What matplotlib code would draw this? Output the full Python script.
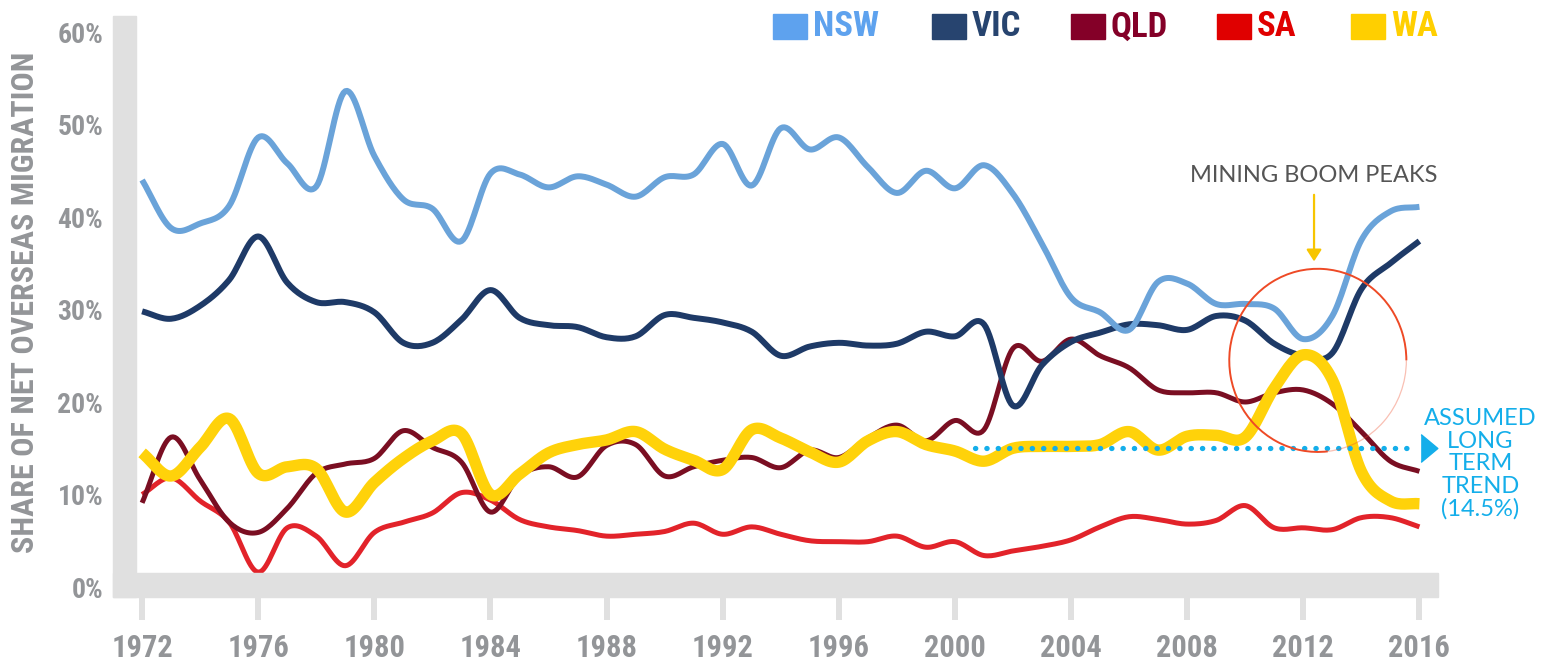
import numpy as np
import matplotlib
matplotlib.use("Agg")
import matplotlib.pyplot as plt
from matplotlib import font_manager as fm
from matplotlib.patches import Rectangle, Arc

# annual share of net overseas migration (%)
years = list(range(1972, 2017))
nsw = [44.0, 38.8, 39.3, 41.2, 48.6, 45.8, 43.3, 53.6, 46.6, 41.9,
       40.9, 37.4, 44.7, 44.6, 43.2, 44.4, 43.5, 42.2, 44.3, 44.6,
       47.9, 43.4, 49.6, 47.3, 48.6, 45.4, 42.6, 45.0, 43.1, 45.6,
       42.5, 37.1, 31.3, 29.7, 27.8, 33.0, 32.8, 30.6, 30.6, 30.1,
       26.8, 29.3, 37.5, 40.6, 41.1]
vic = [29.8, 29.0, 30.4, 33.2, 37.9, 32.9, 30.8, 30.8, 29.7, 26.4,
       26.4, 28.9, 32.1, 29.1, 28.3, 28.1, 27.0, 27.1, 29.4, 29.1,
       28.6, 27.6, 25.0, 26.0, 26.4, 26.1, 26.3, 27.6, 27.1, 28.4,
       19.6, 24.0, 26.5, 27.5, 28.4, 28.3, 27.8, 29.3, 28.8, 26.3,
       25.0, 25.3, 32.2, 35.0, 37.4]
qld = [9.1, 16.2, 11.6, 7.0, 5.9, 8.5, 12.3, 13.3, 13.9, 16.9,
       15.1, 13.5, 8.1, 12.0, 13.0, 11.9, 15.3, 15.4, 12.0, 13.0,
       13.7, 14.0, 12.9, 14.8, 14.0, 16.1, 17.5, 15.8, 18.0, 17.0,
       25.8, 24.4, 26.8, 25.0, 23.7, 21.3, 21.0, 21.0, 20.0, 21.0,
       21.3, 19.8, 16.8, 13.6, 12.5]
sa = [10.0, 11.8, 9.3, 7.0, 1.6, 6.4, 5.5, 2.3, 5.9, 7.0,
      8.0, 10.2, 9.4, 7.3, 6.5, 6.1, 5.5, 5.7, 6.0, 6.9,
      5.7, 6.5, 5.7, 5.0, 4.9, 4.9, 5.5, 4.3, 4.9, 3.4,
      3.9, 4.4, 5.1, 6.5, 7.6, 7.3, 6.8, 7.2, 8.8, 6.4,
      6.4, 6.2, 7.5, 7.5, 6.5]
wa = [14.5, 12.0, 15.1, 18.2, 12.3, 13.0, 12.8, 8.1, 11.3, 13.9,
      15.8, 16.6, 10.0, 12.2, 14.5, 15.4, 15.9, 16.8, 14.9, 13.7,
      12.7, 17.0, 16.1, 14.6, 13.5, 15.8, 16.8, 15.4, 14.7, 13.6,
      15.0, 15.2, 15.2, 15.4, 16.8, 14.8, 16.3, 16.4, 16.2, 21.5,
      25.1, 22.4, 12.5, 9.3, 9.0]

trend_value = 15.0
trend_start = 2000.7
trend_end = 2015.9

names = ["NSW", "VIC", "QLD", "SA", "WA"]
line_colors = ["#6AA3D9", "#1E3A67", "#7A0E22", "#E2232A", "#FFD20A"]
key_colors = ["#5EA2EE", "#27446F", "#840028", "#E00000", "#FFCF00"]
widths = [4.3, 4.3, 3.6, 3.6, 8.2]

W, H = 1542, 660
GREY_TXT = "#939598"
GREY_BAR = "#E0E0E0"
BLUE = "#14AEEA"

# pick a condensed bold face if one is installed
have = {f.name for f in fm.fontManager.ttflist}
cond = next((n for n in ["Roboto Condensed", "Liberation Sans Narrow", "Open Sans Condensed"]
             if n in have), None)
cond_kw = {"family": cond} if cond else {"family": "DejaVu Sans", "stretch": "condensed"}
hand = "Lato" if "Lato" in have else "DejaVu Sans"


def smooth(x, y, n=16):
    # Catmull-Rom curve through the yearly points (like Excel's smoothed lines)
    x = np.asarray(x, float)
    y = np.asarray(y, float)
    px = np.concatenate([[2 * x[0] - x[1]], x, [2 * x[-1] - x[-2]]])
    py = np.concatenate([[2 * y[0] - y[1]], y, [2 * y[-1] - y[-2]]])
    t = np.linspace(0, 1, n, endpoint=False)
    xs, ys = [], []
    for i in range(1, len(px) - 2):
        for arr, out in ((px, xs), (py, ys)):
            p0, p1, p2, p3 = arr[i - 1:i + 3]
            out.append(0.5 * (2 * p1 + (p2 - p0) * t
                              + (2 * p0 - 5 * p1 + 4 * p2 - p3) * t ** 2
                              + (3 * p1 - p0 - 3 * p2 + p3) * t ** 3))
    xs.append([x[-1]])
    ys.append([y[-1]])
    return np.concatenate(xs), np.concatenate(ys)


fig = plt.figure(figsize=(W / 100, H / 100), dpi=100)
ax = fig.add_axes([136 / W, 1 - 587 / H, (1438 - 136) / W, (587 - 16) / H])
ax.set_xlim(1971.79, 2016.64)
ax.set_ylim(0, 61.73)
ax.patch.set_alpha(0)
for s in ax.spines.values():
    s.set_visible(False)

series = [nsw, vic, qld, sa, wa]
order = [3, 2, 1, 0, 4]
for k in order:
    xs, ys = smooth(years, series[k])
    ax.plot(xs, ys, color=line_colors[k], lw=widths[k], solid_capstyle="butt",
            solid_joinstyle="round", zorder=2 + order.index(k) * 0.1)

# assumed long term trend
ax.plot([trend_start, trend_end], [trend_value, trend_value], color=BLUE, lw=3.8,
        linestyle=(0, (0.05, 2.1)), dash_capstyle="round", zorder=3)
ax.plot([2016.33], [trend_value], marker=[(-0.6, -1), (0.6, 0), (-0.6, 1)],
        markersize=20, color=BLUE, clip_on=False, zorder=3)
ax.text(2018.1, 13.3, "ASSUMED\nLONG\nTERM\nTREND\n(14.5%)", color=BLUE,
        family=hand, fontsize=17, ha="center", va="center", linespacing=1.08,
        clip_on=False)

# mining boom circle
circ_kw = dict(xy=(2012.5, 24.5), width=6.1, height=19.8, color="#EE4A26")
ax.add_patch(Arc(theta1=0, theta2=272, lw=1.4, zorder=4, **circ_kw))
ax.add_patch(Arc(theta1=272, theta2=360, lw=0.9, alpha=0.35, zorder=4, **circ_kw))
ax.annotate("", xy=(2012.37, 34.9), xytext=(2012.37, 42.7),
            arrowprops=dict(arrowstyle="-|>,head_length=0.7,head_width=0.45",
                            color="#F7C500", lw=1.6), zorder=4)
ax.text(2012.37, 44.5, "MINING BOOM PEAKS", color="#555555", family=hand,
        fontsize=17, ha="center", va="center")

# axes ticks and labels
ax.set_xticks(range(1972, 2017, 4))
ax.set_yticks(range(0, 61, 10))
ax.set_yticklabels([f"{v}%" for v in range(0, 61, 10)])
ax.tick_params(axis="x", length=23.8, width=4.3, color=GREY_BAR, pad=9,
               labelsize=22, labelcolor=GREY_TXT)
ax.tick_params(axis="y", length=0, pad=23.5, labelsize=20, labelcolor=GREY_TXT)
for lab in ax.get_xticklabels() + ax.get_yticklabels():
    lab.set_fontweight("bold")
    lab.set(**cond_kw)

# thick grey axis bars
fig.add_artist(Rectangle((113 / W, 1 - 597 / H), 23 / W, (597 - 16) / H,
                         transform=fig.transFigure, color=GREY_BAR, zorder=5))
fig.add_artist(Rectangle((113 / W, 1 - 597 / H), (1438 - 113) / W, 24 / H,
                         transform=fig.transFigure, color=GREY_BAR, zorder=5))

fig.text(25 / W, 1 - 302 / H, "SHARE OF NET OVERSEAS MIGRATION", rotation=90,
         ha="center", va="center", fontsize=23, fontweight="bold", color=GREY_TXT,
         **cond_kw)

# legend
key_x = [773, 932, 1071, 1217, 1351]
for name, col, kx in zip(names, key_colors, key_x):
    fig.add_artist(Rectangle((kx / W, 1 - 39 / H), 34 / W, 25 / H,
                             transform=fig.transFigure, color=col))
    fig.text((kx + 40) / W, 1 - 27 / H, name, ha="left", va="center",
             fontsize=25, fontweight="bold", color=col, **cond_kw)

fig.savefig("out.png", dpi=100)
